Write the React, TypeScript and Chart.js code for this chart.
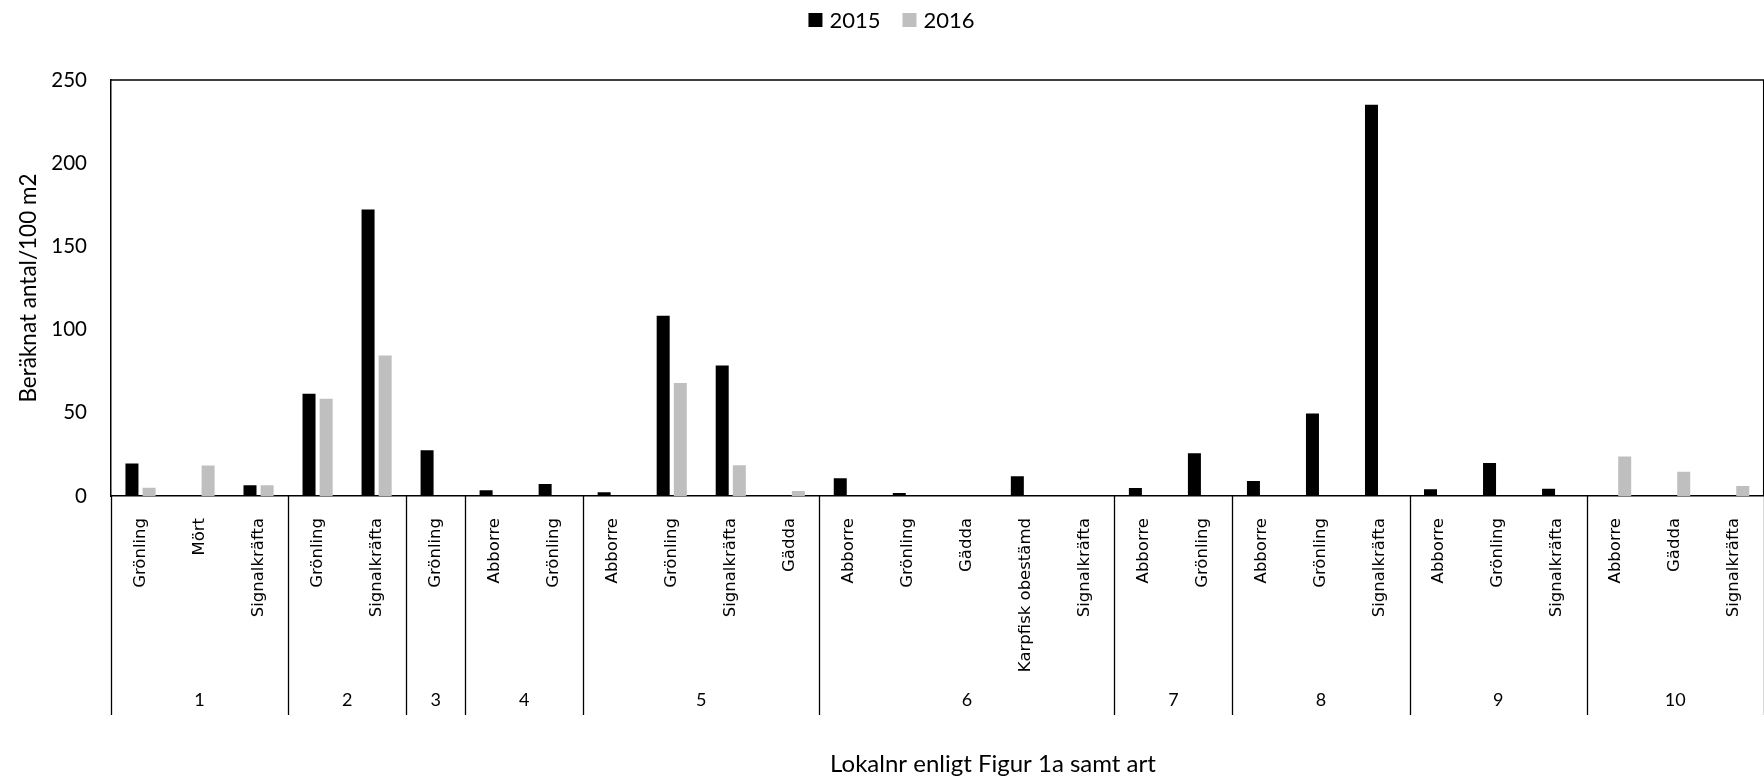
import React, { useEffect, useRef } from 'react';
import { Chart, registerables } from 'chart.js';

Chart.register(...registerables);

// Locality number (group) for each category
const localities = [
  '1', '1', '1',
  '2', '2',
  '3',
  '4', '4',
  '5', '5', '5', '5',
  '6', '6', '6', '6', '6',
  '7', '7',
  '8', '8', '8',
  '9', '9', '9',
  '10', '10', '10',
];

// Species for each category
const species = [
  'Grönling', 'Mört', 'Signalkräfta',
  'Grönling', 'Signalkräfta',
  'Grönling',
  'Abborre', 'Grönling',
  'Abborre', 'Grönling', 'Signalkräfta', 'Gädda',
  'Abborre', 'Grönling', 'Gädda', 'Karpfisk obestämd', 'Signalkräfta',
  'Abborre', 'Grönling',
  'Abborre', 'Grönling', 'Signalkräfta',
  'Abborre', 'Grönling', 'Signalkräfta',
  'Abborre', 'Gädda', 'Signalkräfta',
];

const values2015 = [
  19.5, 0, 6.5,
  61.5, 172.2,
  27.5,
  3.4, 7.2,
  2.2, 108.3, 78.4, 0,
  10.6, 1.8, 0, 11.8, 0,
  4.8, 25.7,
  9.0, 49.6, 235.2,
  4.0, 19.9, 4.4,
  0, 0, 0,
];

const values2016 = [
  5.0, 18.4, 6.5,
  58.5, 84.4,
  0,
  0, 0,
  0, 67.9, 18.5, 3.0,
  0, 0, 0, 0, 0,
  0, 0,
  0, 0, 0,
  0, 0, 0,
  23.7, 14.5, 6.0,
];

const seriesNames = ['2015', '2016'];
const seriesColors = ['#000000', '#bfbfbf'];

const yMin = 0;
const yMax = 250;
const yStep = 50;

const yTitle = 'Beräknat antal/100 m2';
const xTitle = 'Lokalnr enligt Figur 1a samt art';

const LATO = 'Lato, "Open Sans", sans-serif';
const DEJAVU = '"DejaVu Sans", Verdana, sans-serif';

const decorPlugin = {
  id: 'decor',
  afterDraw(chart: any) {
    const { ctx, chartArea, scales } = chart;
    const xs = scales.x;
    const half = (xs.getPixelForValue(1) - xs.getPixelForValue(0)) / 2;
    ctx.save();

    // frame (top and right)
    ctx.strokeStyle = '#000';
    ctx.lineWidth = 1.5;
    ctx.beginPath();
    ctx.moveTo(chartArea.left, chartArea.top);
    ctx.lineTo(chartArea.right, chartArea.top);
    ctx.lineTo(chartArea.right, chartArea.bottom);
    ctx.stroke();

    // group separators and group labels
    const sepBottom = 715;
    const labelY = 700;
    ctx.lineWidth = 1.3;
    ctx.fillStyle = '#000';
    ctx.font = `18px ${LATO}`;
    ctx.textAlign = 'center';
    ctx.textBaseline = 'middle';
    let start = 0;
    for (let i = 1; i <= localities.length; i++) {
      if (i === localities.length || localities[i] !== localities[start]) {
        const left = xs.getPixelForValue(start) - half;
        const right = xs.getPixelForValue(i - 1) + half;
        ctx.beginPath();
        ctx.moveTo(Math.round(left) + 0.5, chartArea.bottom);
        ctx.lineTo(Math.round(left) + 0.5, sepBottom);
        if (i === localities.length) {
          ctx.moveTo(Math.round(right) + 0.5, chartArea.bottom);
          ctx.lineTo(Math.round(right) + 0.5, sepBottom);
        }
        ctx.stroke();
        ctx.fillText(localities[start], (left + right) / 2, labelY);
        start = i;
      }
    }

    // x axis title
    ctx.font = `24px ${LATO}`;
    ctx.fillText(xTitle, 993, 764);

    // legend
    ctx.font = `22px ${LATO}`;
    ctx.textAlign = 'left';
    const box = 14;
    const gapBoxText = 7;
    const gapItems = 22;
    const items = chart.data.datasets.map((d: any) => ({
      label: d.label,
      color: d.backgroundColor,
      w: ctx.measureText(d.label).width,
    }));
    let total = 0;
    items.forEach((it: any, k: number) => {
      total += box + gapBoxText + it.w + (k < items.length - 1 ? gapItems : 0);
    });
    let lx = 891.5 - total / 2;
    const ly = 20;
    items.forEach((it: any) => {
      ctx.fillStyle = it.color;
      ctx.fillRect(lx, ly - box / 2, box, box);
      lx += box + gapBoxText;
      ctx.fillStyle = '#000';
      ctx.fillText(it.label, lx, ly + 1);
      lx += it.w + gapItems;
    });

    ctx.restore();
  },
};

export default function App() {
  const canvasRef = useRef<HTMLCanvasElement | null>(null);

  useEffect(() => {
    const canvas = canvasRef.current;
    if (!canvas) return;
    const chart = new Chart(canvas, {
      type: 'bar',
      data: {
        labels: species,
        datasets: [
          {
            label: seriesNames[0],
            data: values2015,
            backgroundColor: seriesColors[0],
            borderWidth: 0,
            categoryPercentage: 0.58,
            barPercentage: 0.76,
          },
          {
            label: seriesNames[1],
            data: values2016,
            backgroundColor: seriesColors[1],
            borderWidth: 0,
            categoryPercentage: 0.58,
            barPercentage: 0.76,
          },
        ],
      },
      options: {
        responsive: false,
        animation: false,
        devicePixelRatio: 1,
        layout: { padding: { top: 80, left: 0, right: 0, bottom: 0 } },
        plugins: {
          legend: { display: false },
          tooltip: { enabled: false },
        },
        scales: {
          x: {
            grid: { display: false },
            border: { display: true, color: '#000', width: 1.5 },
            ticks: {
              autoSkip: false,
              minRotation: 90,
              maxRotation: 90,
              padding: 14,
              color: '#000',
              font: { family: DEJAVU, size: 16.5 },
            },
            afterFit: (scale: any) => {
              scale.height = 780 - 496;
            },
          },
          y: {
            min: yMin,
            max: yMax,
            grid: { display: false },
            border: { display: true, color: '#000', width: 1.5 },
            ticks: {
              stepSize: yStep,
              padding: 16,
              color: '#000',
              font: { family: LATO, size: 20.5 },
            },
            title: {
              display: true,
              text: yTitle,
              color: '#000',
              font: { family: LATO, size: 22.5 },
              padding: { top: 15, bottom: 0 },
            },
            afterFit: (scale: any) => {
              scale.width = 111;
            },
          },
        },
      },
      plugins: [decorPlugin],
    });
    return () => chart.destroy();
  }, []);

  return (
    <div
      style={{
        position: 'absolute',
        left: 0,
        top: 0,
        width: 1764,
        height: 780,
        overflow: 'hidden',
        background: '#fff',
      }}
    >
      <canvas ref={canvasRef} width={1768} height={780} style={{ display: 'block' }} />
    </div>
  );
}
